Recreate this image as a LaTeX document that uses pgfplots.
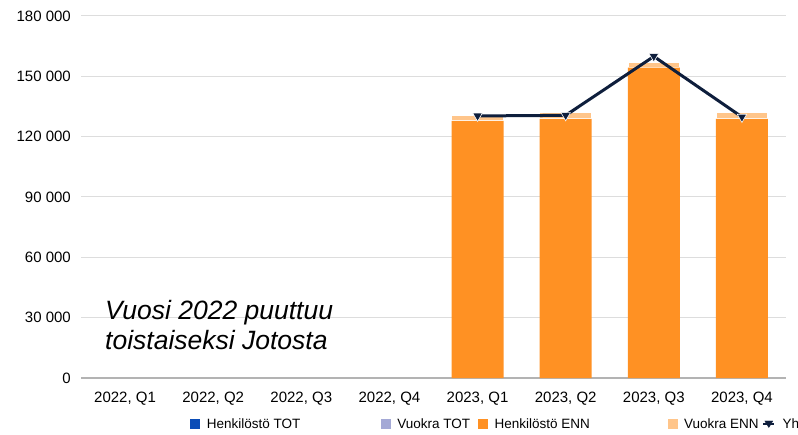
\documentclass[border=0pt]{standalone}
\usepackage{pgfplots}
\pgfplotsset{compat=1.18}
\usepackage{fontspec}
\setmainfont{Liberation Sans}
\definecolor{henkTOT}{HTML}{0B4DB7}
\definecolor{vuokraTOT}{HTML}{A4A9D6}
\definecolor{henkENN}{HTML}{FF9123}
\definecolor{vuokraENN}{HTML}{FFC58A}
\definecolor{navyline}{HTML}{0E1E3C}
\definecolor{gridgray}{HTML}{DDDDDD}
\definecolor{axisgray}{HTML}{B3B3B3}
\begin{document}
\begin{tikzpicture}
\useasboundingbox (0pt,0pt) rectangle (798pt,434pt);
\begin{axis}[
  at={(81pt,56pt)}, anchor=south west, scale only axis,
  width=705pt, height=362pt,
  xmin=-0.5, xmax=7.5, ymin=0, ymax=180000,
  ybar stacked, bar width=52pt,
  axis line style={draw=none}, major tick length=0pt,
  scaled y ticks=false,
  xtick={0,1,2,3,4,5,6,7},
  xticklabels={{2022, Q1},{2022, Q2},{2022, Q3},{2022, Q4},{2023, Q1},{2023, Q2},{2023, Q3},{2023, Q4}},
  ytick={30000,60000,90000,120000,150000,180000},
  yticklabels={{30 000},{60 000},{90 000},{120 000},{150 000},{180 000}},
  extra y ticks={0}, extra y tick labels={0},
  extra y tick style={grid style={color=axisgray, line width=1.2pt}},
  ymajorgrids, grid style={color=gridgray, line width=1pt},
  /pgf/number format/assume math mode=true,
  tick label style={font=\fontsize{15}{18}\selectfont, text=black},
  xticklabel style={anchor=north, inner sep=0pt, yshift=-13.5pt},
  yticklabel style={anchor=east, inner sep=0pt, xshift=-10pt},
  legend columns=5,
  legend style={at={(axis description cs:0.155,-0.127)}, anchor=west, draw=none, fill=none,
    inner sep=0pt, nodes={inner sep=0pt}, font=\fontsize{13.5}{16}\selectfont,
    /tikz/every odd column/.append style={column sep=7pt},
    /tikz/every even column/.append style={column sep=0pt}},
  legend cell align=left,
]
\addplot[fill=henkENN, draw=none, forget plot] coordinates {(4,127800) (5,128800) (6,154300) (7,128800)};
\addplot[fill=vuokraENN, draw=white, line width=1.5pt, forget plot] coordinates {(4,3000) (5,3100) (6,2700) (7,3100)};
\addlegendimage{legend image code/.code={\fill[henkTOT] (0pt,-4.5pt) rectangle (9pt,4.5pt);}}
\addlegendentry{\makebox[174pt][l]{Henkilöstö TOT}}
\addlegendimage{legend image code/.code={\fill[vuokraTOT] (0pt,-4.5pt) rectangle (9pt,4.5pt);}}
\addlegendentry{\makebox[81pt][l]{Vuokra TOT}}
\addlegendimage{legend image code/.code={\fill[henkENN] (0pt,-4.5pt) rectangle (9pt,4.5pt);}}
\addlegendentry{\makebox[173pt][l]{Henkilöstö ENN}}
\addlegendimage{legend image code/.code={\fill[vuokraENN] (0pt,-4.5pt) rectangle (9pt,4.5pt);}}
\addlegendentry{\makebox[78pt][l]{Vuokra ENN}}
\addlegendimage{legend image code/.code={\draw[navyline, line width=2.5pt] (0pt,0pt) -- (11pt,0pt);
  \fill[navyline] (1.5pt,3pt) -- (9.5pt,3pt) -- (5.5pt,-3.5pt) -- cycle;}}
\addlegendentry{Yhteensä}
\end{axis}
\begin{axis}[
  at={(81pt,56pt)}, anchor=south west, scale only axis,
  width=705pt, height=362pt,
  xmin=-0.5, xmax=7.5, ymin=0, ymax=180000,
  hide axis, clip=false,
]
\addplot[navyline, line width=3pt, mark=triangle*, mark size=5.5pt,
  mark options={solid, rotate=180, fill=navyline, draw=white, line width=0.6pt}]
  coordinates {(4,130300) (5,130600) (6,159900) (7,129800)};
\end{axis}
\node[anchor=base west, inner sep=0pt, font=\fontsize{26.5}{30}\selectfont\itshape] at (105pt,114.5pt) {Vuosi 2022 puuttuu};
\node[anchor=base west, inner sep=0pt, font=\fontsize{26.5}{30}\selectfont\itshape] at (105pt,84.5pt) {toistaiseksi Jotosta};
\end{tikzpicture}
\end{document}
